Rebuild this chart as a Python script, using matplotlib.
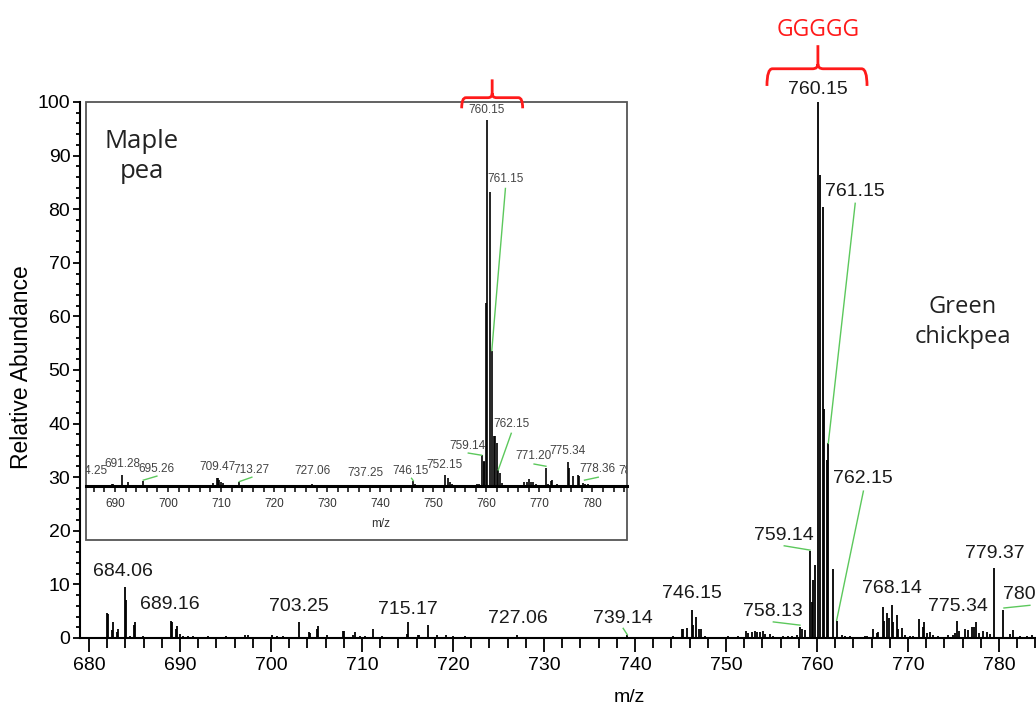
import matplotlib.pyplot as plt
from matplotlib.patches import Rectangle, PathPatch
from matplotlib.path import Path
from matplotlib.ticker import MultipleLocator

plt.rcParams['font.family'] = ['Liberation Sans Narrow', 'Liberation Sans', 'DejaVu Sans']

# ---- main spectrum (green chickpea) ----
main_mz = [681.03, 681.94, 682.05, 682.49, 682.60, 683.04, 683.15, 683.96, 684.03, 684.50,
           684.95, 685.05, 685.97, 689.01, 689.12, 689.56, 689.67, 690.00, 690.37, 690.90,
           691.40, 693.10, 695.10, 697.10, 697.50, 700.10, 700.60, 701.30, 703.11, 704.20,
           704.30, 705.00, 705.13, 706.10, 707.95, 708.06, 709.05, 709.23, 709.80, 710.33,
           711.17, 712.16, 714.98, 715.09, 716.19, 716.30, 717.29, 718.20, 719.23, 720.00,
           721.30, 727.07, 728.10, 739.16, 739.60, 740.20, 742.20, 742.56, 744.20, 745.13,
           745.31, 745.68, 746.23, 746.34, 746.70, 747.07, 747.25, 747.69, 750.25, 751.35,
           752.20, 752.45, 752.82, 753.19, 753.44, 753.74, 754.03, 754.29, 754.84, 755.20,
           756.30, 756.85, 757.20, 757.77, 758.13, 758.32, 758.68, 759.23, 759.41, 759.60,
           759.78, 760.14, 760.33, 760.63, 760.77, 761.06, 761.24, 761.73, 762.16, 762.71,
           763.08, 763.63, 765.27, 765.46, 766.19, 766.56, 766.74, 767.22, 767.40, 767.66,
           767.95, 768.21, 768.39, 768.76, 768.93, 769.30, 769.67, 770.22, 770.58, 771.24,
           771.61, 771.76, 772.05, 772.42, 772.78, 773.33, 774.43, 774.98, 775.16, 775.35,
           775.64, 776.26, 776.63, 777.00, 777.29, 777.47, 777.84, 778.27, 778.65, 779.01,
           779.45, 780.47, 781.21, 781.50, 782.31, 783.04, 783.60]
main_int = [0.25, 4.6, 4.5, 1.4, 3.0, 1.2, 1.7, 9.6, 7.0, 0.3,
            2.4, 3.0, 0.3, 3.1, 3.0, 1.6, 2.3, 0.8, 0.4, 0.3,
            0.4, 0.3, 0.4, 0.6, 0.5, 0.5, 0.3, 0.4, 3.0, 1.1,
            0.9, 1.6, 2.3, 0.6, 1.3, 1.3, 0.5, 1.1, 0.3, 0.3,
            1.6, 0.3, 0.8, 2.9, 0.6, 0.5, 2.4, 0.5, 0.6, 0.3,
            0.3, 0.6, 0.2, 0.6, 0.2, 0.2, 0.2, 0.2, 0.3, 1.6,
            1.6, 1.9, 5.3, 2.5, 4.0, 1.7, 1.7, 0.4, 0.3, 0.3,
            1.3, 1.0, 1.1, 1.3, 1.1, 1.1, 1.3, 0.8, 0.8, 0.4,
            0.4, 0.4, 0.4, 0.6, 2.0, 1.7, 1.4, 16.3, 6.8, 10.9,
            13.7, 100.0, 86.4, 80.4, 42.7, 33.3, 36.3, 12.9, 3.2, 0.6,
            0.4, 0.3, 0.3, 0.3, 1.6, 1.0, 1.2, 5.8, 3.2, 4.6,
            3.8, 6.2, 2.9, 4.2, 1.6, 1.9, 0.6, 0.4, 0.4, 3.6,
            2.1, 3.0, 1.0, 1.2, 0.6, 0.4, 0.5, 0.5, 1.0, 3.1,
            1.3, 1.6, 1.5, 2.1, 2.1, 3.0, 1.0, 1.3, 1.2, 0.8,
            13.1, 5.3, 0.8, 1.5, 0.4, 0.4, 0.5]

# label text, text x, text bottom y, alignment, leader (x0, y0, x1, y1) or None
main_labels = [
    ('684.06', 683.70, 10.8, 'center', None),
    ('689.16', 688.90, 4.7, 'center', None),
    ('703.25', 703.08, 4.3, 'center', None),
    ('715.17', 715.05, 3.8, 'center', None),
    ('727.06', 727.14, 2.1, 'center', None),
    ('739.14', 738.70, 2.0, 'center', (738.70, 1.8, 739.16, 0.6)),
    ('746.15', 746.26, 6.8, 'center', None),
    ('758.13', 755.16, 3.4, 'center', (755.20, 3.0, 758.13, 2.4)),
    ('759.14', 756.37, 17.5, 'center', (756.40, 17.2, 759.23, 16.4)),
    ('760.15', 760.14, 100.7, 'center', None),
    ('761.15', 764.18, 81.7, 'center', (764.20, 81.1, 761.24, 36.3)),
    ('762.15', 765.09, 28.2, 'center', (765.10, 27.4, 762.16, 3.3)),
    ('768.14', 768.20, 7.7, 'center', None),
    ('775.34', 775.44, 4.3, 'center', None),
    ('779.37', 779.56, 14.2, 'center', None),
    ('780.37', 780.44, 6.5, 'left', (780.55, 5.6, 783.40, 6.1)),
]

# ---- inset spectrum (maple pea) ----
inset_mz = [689.38, 689.68, 691.38, 692.51, 695.34, 708.41, 709.16, 709.35, 709.67, 709.92,
            710.30, 713.43, 714.50, 727.19, 737.25, 746.23, 746.55, 749.38, 751.45, 752.21,
            752.71, 753.15, 753.59, 758.18, 758.61, 759.12, 759.47, 759.60, 759.88, 760.15,
            760.69, 761.03, 761.50, 761.63, 761.95, 762.25, 762.57, 762.90, 767.16, 767.60,
            768.04, 768.42, 768.85, 769.30, 771.24, 771.68, 772.19, 772.43, 773.26, 775.33,
            775.58, 776.40, 777.22, 777.47, 778.28, 778.60, 779.22, 780.48]
inset_int = [0.45, 0.45, 3.0, 1.2, 1.5, 0.9, 2.1, 2.3, 1.6, 1.2,
             0.9, 1.2, 0.4, 0.5, 0.3, 1.45, 0.5, 0.4, 0.3, 3.0,
             2.1, 1.0, 0.6, 0.6, 0.6, 8.5, 6.9, 6.6, 50.0, 100.0,
             80.4, 37.0, 13.7, 13.7, 11.7, 4.4, 3.5, 0.7, 1.0, 1.0,
             1.8, 1.2, 1.0, 0.6, 5.0, 0.5, 1.3, 1.6, 0.6, 6.5,
             4.8, 2.7, 3.1, 2.6, 0.9, 0.6, 0.5, 0.3]

inset_labels = [
    ('684.25', 688.60, 2.4, 'right', None),
    ('691.28', 691.38, 4.4, 'center', None),
    ('695.26', 697.90, 3.0, 'center', (695.34, 1.6, 697.90, 2.7)),
    ('709.47', 709.30, 3.6, 'center', None),
    ('713.27', 715.80, 2.6, 'center', (713.43, 1.2, 715.80, 2.4)),
    ('727.06', 727.20, 2.4, 'center', None),
    ('737.25', 737.30, 1.9, 'center', None),
    ('746.15', 745.80, 2.4, 'center', (745.90, 2.1, 746.23, 1.45)),
    ('752.15', 752.10, 4.2, 'center', None),
    ('759.14', 756.50, 9.4, 'center', (756.60, 9.0, 759.12, 8.4)),
    ('760.15', 760.10, 101.2, 'center', None),
    ('761.15', 763.60, 82.2, 'center', (763.60, 81.3, 761.03, 37.0)),
    ('762.15', 764.65, 15.3, 'center', (764.70, 14.4, 762.25, 4.4)),
    ('771.20', 768.85, 6.6, 'center', (769.00, 6.0, 771.24, 5.4)),
    ('775.34', 775.30, 7.8, 'center', None),
    ('778.36', 781.00, 3.0, 'center', (778.50, 1.6, 781.10, 2.4)),
    ('780.37', 784.90, 2.4, 'left', None),
]

W, H = 1036, 707
LEADER = '#5cc85c'
LABEL_FS = 14


def fx(px):
    return px / W


def fy(py):
    return 1 - py / H


def brace(ax, x0, x1, xc, y_end, y_bar, y_tip, dx, dy):
    verts = [(x0, y_end), (x0, y_bar), (x0 + dx, y_bar), (xc - dx, y_bar),
             (xc, y_bar), (xc, y_bar + dy), (xc, y_tip),
             (xc, y_bar + dy), (xc, y_bar), (xc + dx, y_bar), (x1 - dx, y_bar),
             (x1, y_bar), (x1, y_end)]
    codes = [Path.MOVETO, Path.CURVE3, Path.CURVE3, Path.LINETO,
             Path.CURVE3, Path.CURVE3, Path.LINETO,
             Path.MOVETO, Path.CURVE3, Path.CURVE3, Path.LINETO,
             Path.CURVE3, Path.CURVE3]
    ax.add_patch(PathPatch(Path(verts, codes), fill=False, edgecolor='#ff1a1a',
                           lw=2, clip_on=False, zorder=5))


fig = plt.figure(figsize=(10.36, 7.07), dpi=100)

# main axes
ax = fig.add_axes([fx(80), fy(638), (W - 80) / W, (638 - 102) / H])
ax.vlines(main_mz, 0, main_int, color='black', lw=1.3)
ax.set_xlim(679.0, 784.07)
ax.set_ylim(0, 100)
for s in ['top', 'right']:
    ax.spines[s].set_visible(False)
for s in ['left', 'bottom']:
    ax.spines[s].set_linewidth(1.5)
ax.xaxis.set_major_locator(MultipleLocator(10))
ax.xaxis.set_minor_locator(MultipleLocator(2))
ax.yaxis.set_major_locator(MultipleLocator(10))
ax.yaxis.set_minor_locator(MultipleLocator(2))
ax.tick_params(axis='x', which='major', length=10, width=1.3, labelsize=14, pad=4)
ax.tick_params(axis='x', which='minor', length=7, width=1.3)
ax.tick_params(axis='y', which='major', length=5, width=1.3, labelsize=14, pad=2)
ax.tick_params(axis='y', which='minor', length=3, width=1.3)

for txt, tx, ty, ha, lead in main_labels:
    ax.text(tx, ty, txt, ha=ha, va='bottom', fontsize=LABEL_FS, color='#1a1a1a')
    if lead:
        ax.plot([lead[0], lead[2]], [lead[1], lead[3]], color=LEADER, lw=1)

brace(ax, 754.5, 765.5, 760.1, 103.0, 106.2, 110.6, 0.6, 0.9)
ax.text(760.1, 113.5, 'GGGGG', color='#ff1a1a', ha='center', va='center',
        fontsize=16.5, family=['Open Sans', 'DejaVu Sans'])

fig.text(fx(22), fy(367), 'Relative Abundance', rotation=90, ha='center', va='center', fontsize=16.5)
fig.text(fx(629), fy(697), 'm/z', ha='center', va='center', fontsize=14)
fig.text(fx(963), fy(343), 'Green\nchickpea', ha='center', va='baseline', fontsize=17,
         linespacing=1.35, color='#222222', family=['Open Sans', 'DejaVu Sans'])

# inset box + axes
box = Rectangle((fx(85.7), fy(540)), 541 / W, (540 - 101.7) / H, transform=fig.transFigure,
                facecolor='white', edgecolor='#555555', lw=1.3, zorder=1)
fig.add_artist(box)

axi = fig.add_axes([fx(85.7), fy(486), 541 / W, (486 - 101.7) / H], zorder=2)
axi.patch.set_alpha(0)
axi.vlines(inset_mz, 0, inset_int, color='black', lw=1.2)
axi.set_xlim(684.48, 786.46)
axi.set_ylim(0, 105.0)
for s in ['top', 'right', 'left']:
    axi.spines[s].set_visible(False)
axi.spines['bottom'].set_linewidth(2.2)
axi.set_yticks([])
axi.xaxis.set_major_locator(MultipleLocator(10))
axi.xaxis.set_minor_locator(MultipleLocator(2))
axi.tick_params(axis='x', which='both', length=4.5, width=1.1, labelsize=8.5, pad=4,
                labelcolor='#333333')

for txt, tx, ty, ha, lead in inset_labels:
    axi.text(tx, ty, txt, ha=ha, va='bottom', fontsize=8.5, color='#444444', clip_on=True)
    if lead:
        axi.plot([lead[0], lead[2]], [lead[1], lead[3]], color=LEADER, lw=1)

brace(axi, 755.35, 766.85, 761.1, 103.2, 106.1, 111.1, 0.8, 1.2)

fig.text(fx(381), fy(524), 'm/z', ha='center', va='center', fontsize=8.5, color='#333333')
fig.text(fx(142), fy(178), 'Maple\npea', ha='center', va='baseline', fontsize=18.5,
         linespacing=1.25, color='#222222', family=['Open Sans', 'DejaVu Sans'], zorder=3)

fig.savefig('out.png', dpi=100)
